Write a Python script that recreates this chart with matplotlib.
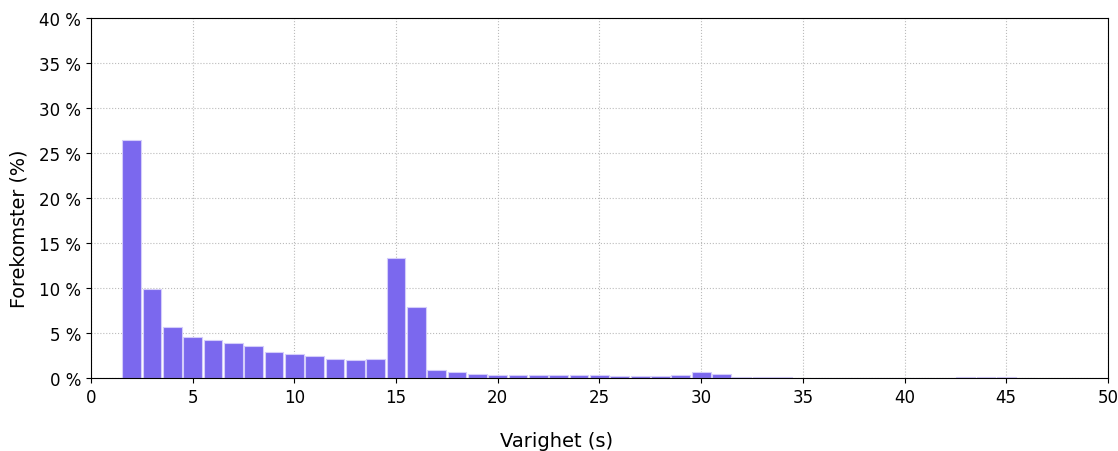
import matplotlib
matplotlib.use('Agg')
import matplotlib.pyplot as plt
import matplotlib.ticker as mtick

# duration (s) and share of occurrences (%)
durations = list(range(2, 47))
shares = [26.4, 9.9, 5.7, 4.55, 4.2, 3.9, 3.55, 2.9, 2.65, 2.4, 2.1, 2.05, 2.1,
          13.3, 7.9, 0.85, 0.65, 0.48, 0.37, 0.37, 0.37, 0.37, 0.33, 0.33,
          0.22, 0.2, 0.2, 0.3, 0.7, 0.45, 0.15, 0.15, 0.08, 0.05,
          0.0, 0.0, 0.0, 0.0, 0.0,
          0.05, 0.05, 0.06, 0.1, 0.12, 0.05]

fig = plt.figure(figsize=(11.18, 4.52), dpi=100)
ax = fig.add_axes([0.0814, 0.1615, 0.9096, 0.7965])

ax.bar(durations, shares, width=0.92, color='#7b68ee',
       edgecolor='#d4cdfa', linewidth=0.8, zorder=2)

ax.set_xlim(0, 50)
ax.set_ylim(0, 40)
ax.set_xticks(range(0, 51, 5))
ax.set_yticks(range(0, 41, 5))
ax.yaxis.set_major_formatter(mtick.FuncFormatter(lambda v, p: f'{v:.0f} %'))
ax.tick_params(labelsize=12)
ax.grid(True, linestyle=':', color='#bbbbbb', linewidth=0.8, zorder=0)
ax.set_axisbelow(True)

ax.set_xlabel('Varighet (s)', fontsize=14)
ax.set_ylabel('Forekomster (%)', fontsize=13.8)
ax.xaxis.set_label_coords(0.458, -0.148)
ax.yaxis.set_label_coords(-0.061, 0.417)

fig.savefig('out.png', dpi=100)
